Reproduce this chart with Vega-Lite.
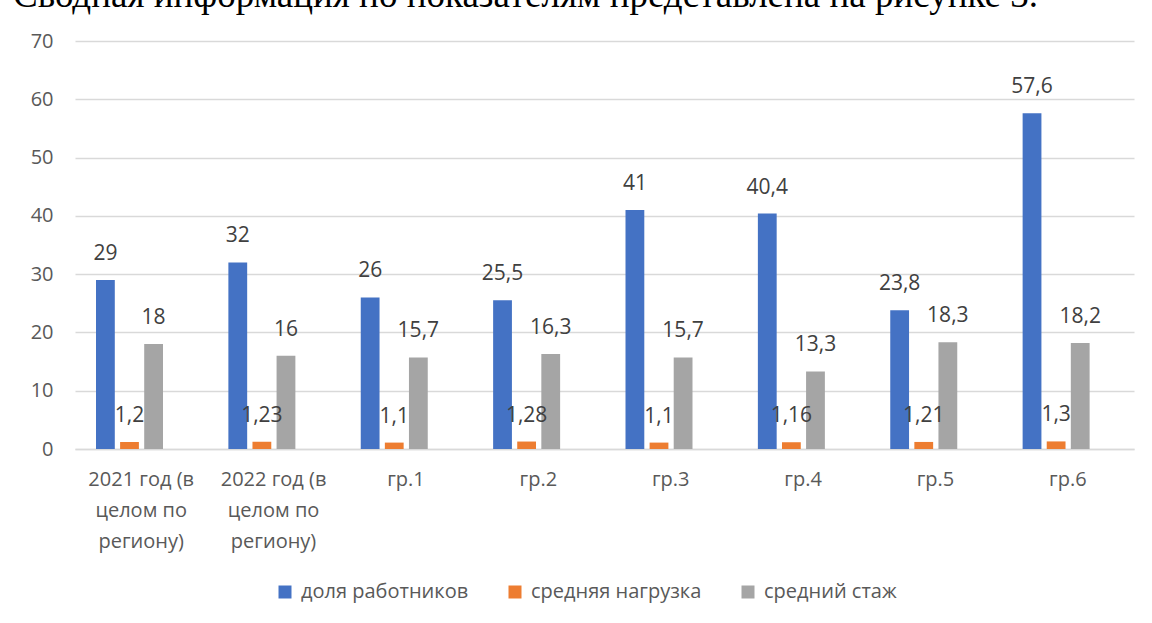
{
  "$schema": "https://vega.github.io/schema/vega-lite/v6.json",
  "autosize": "none",
  "width": 1059,
  "height": 408,
  "padding": {"left": 75, "top": 41, "right": 18, "bottom": 174},
  "title": {
    "text": "Сводная информация по показателям представлена на рисунке 3.",
    "anchor": "start",
    "frame": "group",
    "font": "Liberation Serif",
    "fontSize": 37,
    "fontWeight": "normal",
    "color": "#000000",
    "baseline": "alphabetic",
    "offset": 34,
    "dx": -62,
    "dy": 47
  },
  "config": {
    "locale": {"number": {"decimal": ",", "thousands": " ", "grouping": [3], "currency": ["", ""]}},
    "view": {"stroke": null},
    "font": "Open Sans"
  },
  "data": {
    "values": [
      {"cat": "2021 год (в целом по региону)", "series": "доля работников", "value": 29},
      {"cat": "2021 год (в целом по региону)", "series": "средняя нагрузка", "value": 1.2},
      {"cat": "2021 год (в целом по региону)", "series": "средний стаж", "value": 18},
      {"cat": "2022 год (в целом по региону)", "series": "доля работников", "value": 32},
      {"cat": "2022 год (в целом по региону)", "series": "средняя нагрузка", "value": 1.23},
      {"cat": "2022 год (в целом по региону)", "series": "средний стаж", "value": 16},
      {"cat": "гр.1", "series": "доля работников", "value": 26},
      {"cat": "гр.1", "series": "средняя нагрузка", "value": 1.1},
      {"cat": "гр.1", "series": "средний стаж", "value": 15.7},
      {"cat": "гр.2", "series": "доля работников", "value": 25.5},
      {"cat": "гр.2", "series": "средняя нагрузка", "value": 1.28},
      {"cat": "гр.2", "series": "средний стаж", "value": 16.3},
      {"cat": "гр.3", "series": "доля работников", "value": 41},
      {"cat": "гр.3", "series": "средняя нагрузка", "value": 1.1},
      {"cat": "гр.3", "series": "средний стаж", "value": 15.7},
      {"cat": "гр.4", "series": "доля работников", "value": 40.4},
      {"cat": "гр.4", "series": "средняя нагрузка", "value": 1.16},
      {"cat": "гр.4", "series": "средний стаж", "value": 13.3},
      {"cat": "гр.5", "series": "доля работников", "value": 23.8},
      {"cat": "гр.5", "series": "средняя нагрузка", "value": 1.21},
      {"cat": "гр.5", "series": "средний стаж", "value": 18.3},
      {"cat": "гр.6", "series": "доля работников", "value": 57.6},
      {"cat": "гр.6", "series": "средняя нагрузка", "value": 1.3},
      {"cat": "гр.6", "series": "средний стаж", "value": 18.2}
    ]
  },
  "encoding": {
    "x": {
      "field": "cat",
      "type": "nominal",
      "sort": null,
      "scale": {"paddingInner": 0, "paddingOuter": 0},
      "axis": {
        "title": null,
        "labelAngle": 0,
        "labelFontSize": 20,
        "labelColor": "#595959",
        "labelLineHeight": 31,
        "labelPadding": 20,
        "labelBaseline": "top",
        "ticks": false,
        "domainColor": "#d9d9d9",
        "domainWidth": 1.5,
        "labelExpr": "datum.value == '2021 год (в целом по региону)' ? ['2021 год (в', 'целом по', 'региону)'] : datum.value == '2022 год (в целом по региону)' ? ['2022 год (в', 'целом по', 'региону)'] : datum.value"
      }
    },
    "xOffset": {
      "field": "series",
      "type": "nominal",
      "sort": ["доля работников", "средняя нагрузка", "средний стаж"],
      "scale": {"range": [21, 88], "paddingInner": 0.22, "paddingOuter": 0}
    },
    "y": {
      "field": "value",
      "type": "quantitative",
      "scale": {"domain": [0, 70]},
      "axis": {
        "title": null,
        "values": [0, 10, 20, 30, 40, 50, 60, 70],
        "labelFontSize": 20,
        "labelColor": "#595959",
        "labelPadding": 22,
        "ticks": false,
        "domain": false,
        "gridColor": "#d9d9d9",
        "gridWidth": 1.5
      }
    }
  },
  "layer": [
    {
      "mark": {"type": "bar"},
      "encoding": {
        "color": {
          "field": "series",
          "type": "nominal",
          "sort": ["доля работников", "средняя нагрузка", "средний стаж"],
          "scale": {"range": ["#4472C4", "#ED7D31", "#A5A5A5"]},
          "legend": {
            "title": null,
            "orient": "none",
            "legendX": 200,
            "legendY": 541,
            "direction": "horizontal",
            "symbolType": "square",
            "symbolSize": 169,
            "symbolStrokeWidth": 0,
            "labelFontSize": 20,
            "labelLimit": 400,
            "labelOffset": 6,
            "labelColor": "#595959",
            "columnPadding": 36
          }
        }
      }
    },
    {
      "mark": {"type": "text", "baseline": "middle", "dy": -26, "fontSize": 21, "color": "#404040"},
      "encoding": {
        "text": {"field": "value", "type": "quantitative", "format": "~g"}
      }
    }
  ]
}
